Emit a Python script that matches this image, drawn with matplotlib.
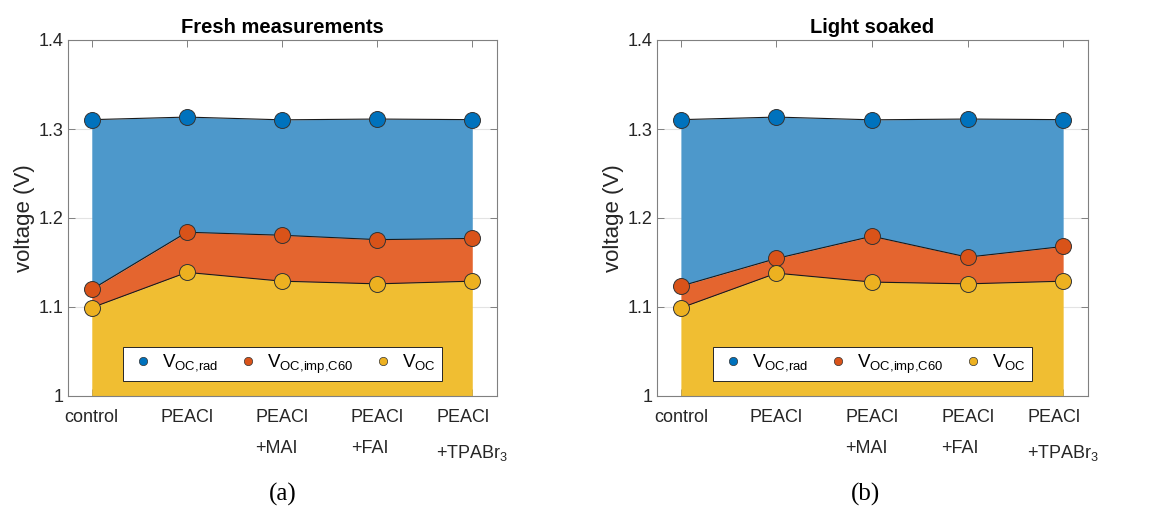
import matplotlib.pyplot as plt
from matplotlib.lines import Line2D
import numpy as np

plt.rcParams['font.family'] = ['Liberation Sans', 'DejaVu Sans']
plt.rcParams['mathtext.fontset'] = 'custom'
plt.rcParams['mathtext.rm'] = 'Liberation Sans'

samples = ['control', 'PEACl', 'PEACl\n+MAI', 'PEACl\n+FAI', 'PEACl\n+TPABr$_3$']

# fresh measurements
voc_rad_fresh = [1.3105, 1.3134, 1.3103, 1.3112, 1.3105]
voc_imp_fresh = [1.1198, 1.1840, 1.1806, 1.1757, 1.1770]
voc_fresh = [1.0992, 1.1389, 1.1290, 1.1260, 1.1290]

# light soaked
voc_rad_ls = [1.3105, 1.3134, 1.3103, 1.3112, 1.3105]
voc_imp_ls = [1.1235, 1.1545, 1.1795, 1.1560, 1.1680]
voc_ls = [1.0990, 1.1380, 1.1280, 1.1260, 1.1290]

titles = ['Fresh measurements', 'Light soaked']
captions = ['(a)', '(b)']

mark_cols = ['#0072BD', '#D95319', '#EDB120']
fill_cols = ['#4D98CB', '#E4652F', '#F0BE32']
leg_labels = [r'V$_{\mathrm{OC{,}rad}}$', r'V$_{\mathrm{OC{,}imp{,}C60}}$', r'V$_{\mathrm{OC}}$']

fig = plt.figure(figsize=(11.56, 5.08), dpi=100)
ax_pos = [[68/1156, 112/508, 429/1156, 356/508],
          [657/1156, 112/508, 431/1156, 356/508]]
cap_x = [283/1156, 865/1156]

data = [(voc_rad_fresh, voc_imp_fresh, voc_fresh),
        (voc_rad_ls, voc_imp_ls, voc_ls)]

for k in range(2):
    ax = fig.add_axes(ax_pos[k])
    x = np.arange(1, len(samples) + 1)
    rad, imp, voc = data[k]
    # stacked areas
    ax.fill_between(x, imp, rad, color=fill_cols[0], lw=0, zorder=1)
    ax.fill_between(x, voc, imp, color=fill_cols[1], lw=0, zorder=1)
    ax.fill_between(x, 1.0, voc, color=fill_cols[2], lw=0, zorder=1)
    for series in (rad, imp, voc):
        ax.plot(x, series, color='#1a1a1a', lw=0.8, zorder=2)
    for series, c in zip((rad, imp, voc), mark_cols):
        ax.plot(x, series, 'o', ms=11.5, mfc=c, mec='#333333', mew=0.7, zorder=3, clip_on=False)

    ax.set_xlim(0.75, 5.26)
    ax.set_ylim(1.0, 1.4)
    ax.set_yticks([1.0, 1.1, 1.2, 1.3, 1.4])
    ax.set_yticklabels(['1', '1.1', '1.2', '1.3', '1.4'])
    ax.set_xticks(x)
    ax.set_xticklabels(samples, multialignment='left', linespacing=2.15)
    ax.yaxis.grid(True, color='#e3e3e3', lw=0.8, zorder=0)
    ax.set_axisbelow(True)
    ax.tick_params(direction='in', top=True, right=True, length=5, width=0.7,
                   colors='#808080', labelcolor='#262626', labelsize=13)
    ax.tick_params(axis='x', pad=9)
    for s in ax.spines.values():
        s.set_color('#808080')
        s.set_linewidth(0.8)
    ax.set_ylabel('voltage (V)', fontsize=16, color='#262626', labelpad=2)
    ax.set_title(titles[k], fontsize=14.5, fontweight='bold', pad=5)

    handles = [Line2D([], [], marker='o', ls='none', ms=6, mfc=c, mec='#333333', mew=0.5)
               for c in mark_cols]
    leg = ax.legend(handles, leg_labels, loc='lower center', bbox_to_anchor=(0.5, 0.015),
                    ncol=3, fontsize=13.5, frameon=True, fancybox=False, framealpha=1,
                    edgecolor='#262626', handletextpad=0.3, columnspacing=0.8,
                    borderpad=0.3, handlelength=1.5)
    leg.get_frame().set_linewidth(0.7)

    fig.text(cap_x[k], 0.026, captions[k], ha='center', va='center',
             fontsize=18, family='Liberation Serif')

fig.savefig('out.png', dpi=100)
